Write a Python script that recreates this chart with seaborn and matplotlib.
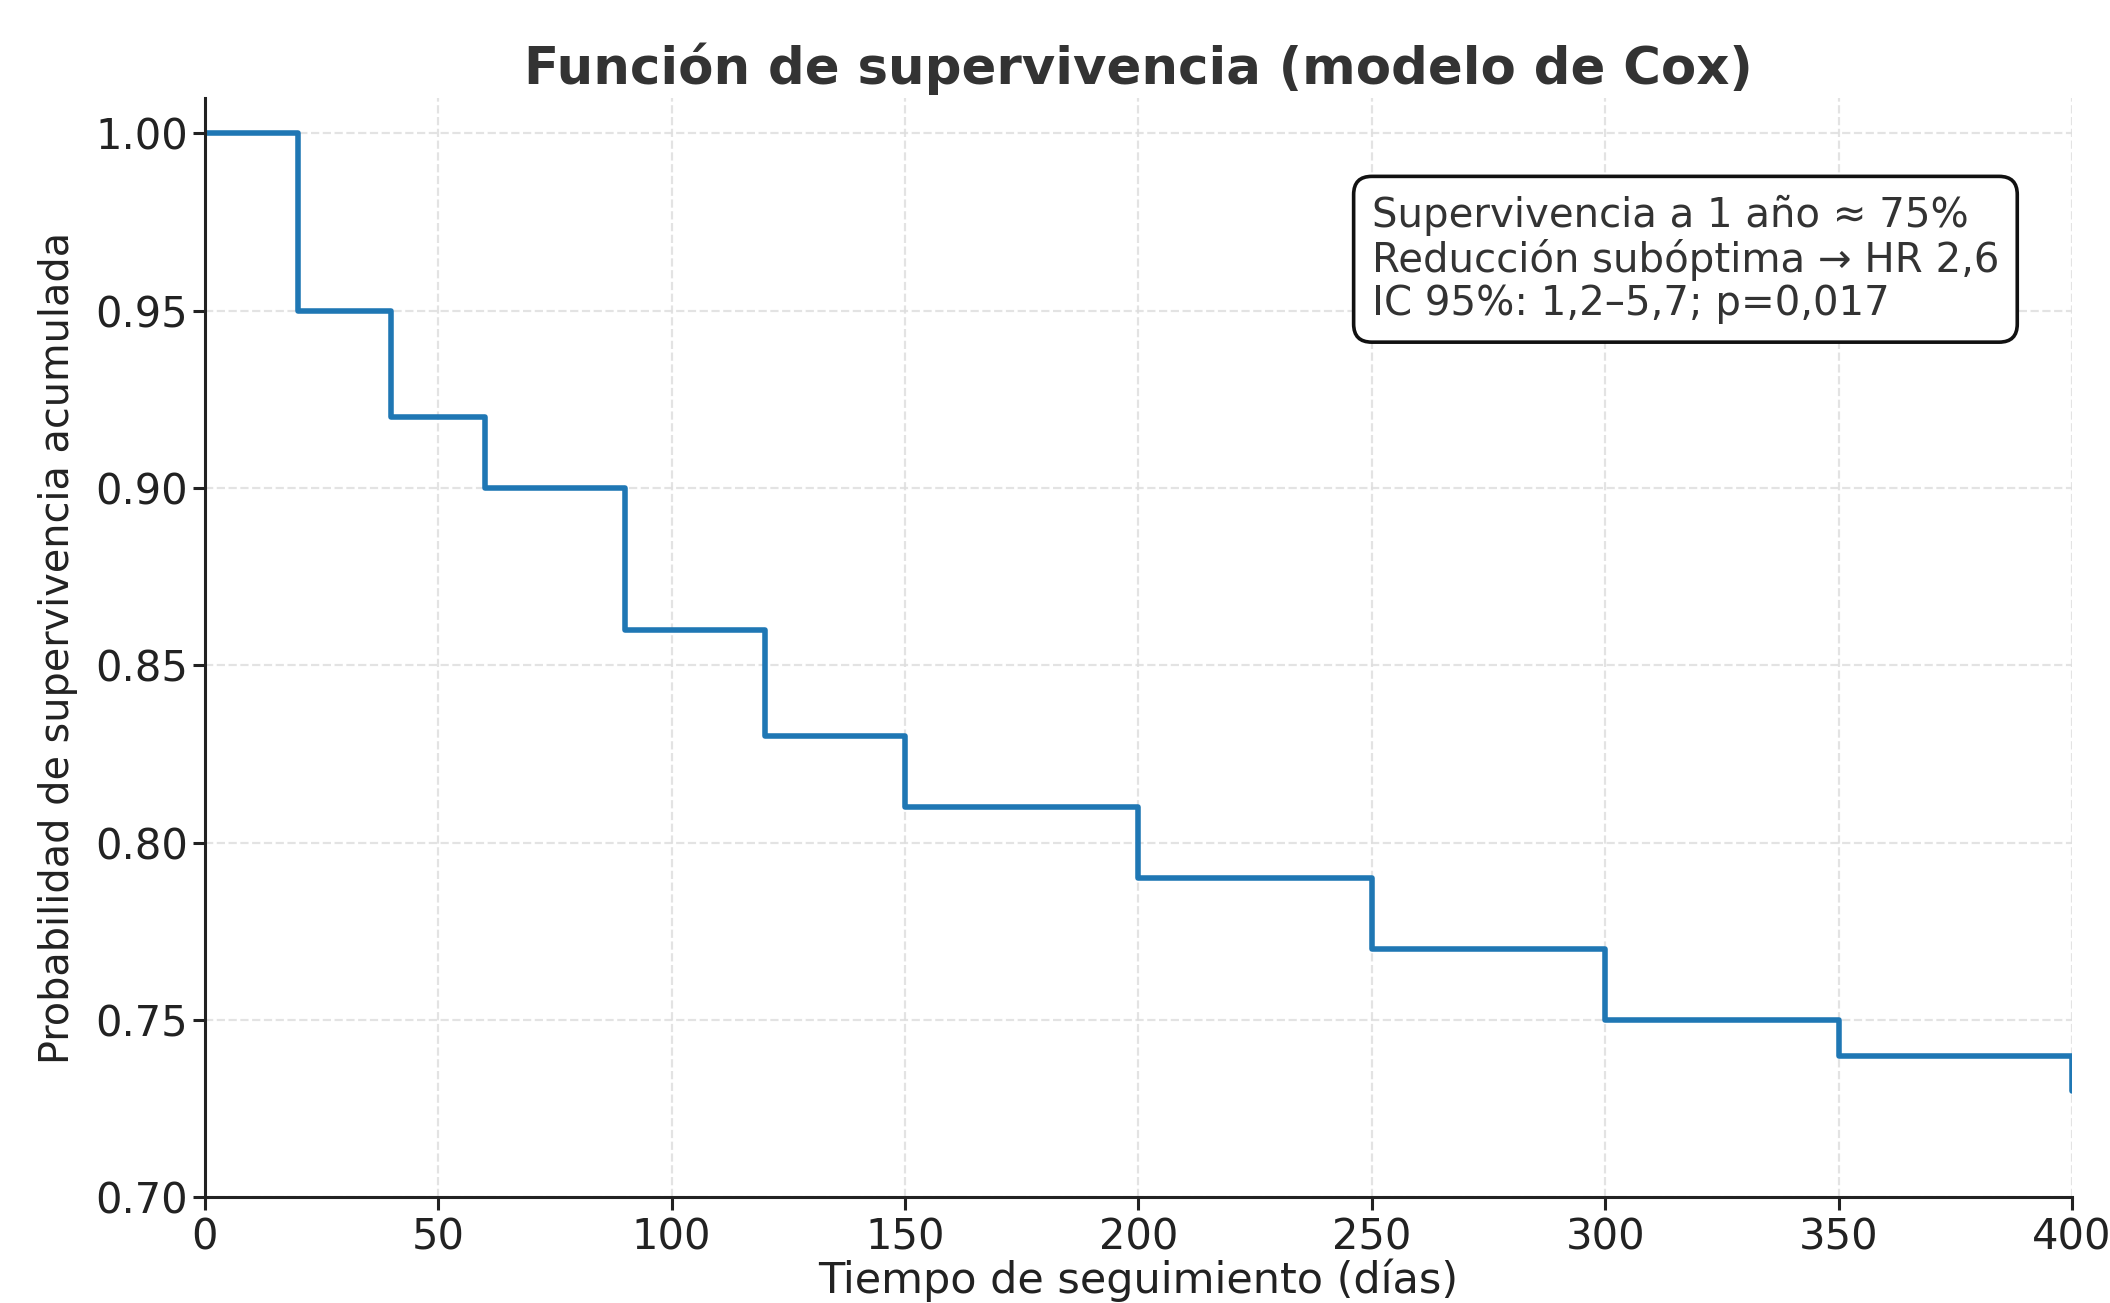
#!/usr/bin/env python3
import pandas as pd
import seaborn as sns
import matplotlib.pyplot as plt

# step points of the survival curve (post steps)
tiempo = [0, 20, 40, 60, 90, 120, 150, 200, 250, 300, 350, 400]
supervivencia = [1.00, 0.95, 0.92, 0.90, 0.86, 0.83, 0.81, 0.79, 0.77, 0.75, 0.74, 0.73]
x_ticks = [0, 50, 100, 150, 200, 250, 300, 350, 400]
y_ticks = [0.70, 0.75, 0.80, 0.85, 0.90, 0.95, 1.00]
anotacion = ['Supervivencia a 1 año ≈ 75%',
             'Reducción subóptima → HR 2,6',
             'IC 95%: 1,2–5,7; p=0,017']

df = pd.DataFrame({'t': tiempo, 's': supervivencia})

sns.set_style('ticks')
plt.rcParams['font.family'] = ['DejaVu Sans']

fig, ax = plt.subplots(figsize=(10.55, 6.515), dpi=200)
fig.subplots_adjust(left=0.097, right=0.982, top=0.925, bottom=0.081)

sns.lineplot(data=df, x='t', y='s', ax=ax, color='#1f77b4', linewidth=2,
             drawstyle='steps-post')

ax.set_xlim(0, 400)
ax.set_ylim(0.70, 1.01)
ax.set_xticks(x_ticks)
ax.set_yticks(y_ticks)
ax.set_yticklabels([f'{v:.2f}' for v in y_ticks])
ax.grid(True, linestyle='--', color='#dddddd', linewidth=0.8, alpha=0.8)
ax.tick_params(labelsize=15, length=4.5, width=1.1, colors='#222222')
ax.tick_params(axis='y', pad=1.5)
ax.tick_params(axis='x', pad=2.5)
for s in ['left', 'bottom']:
    ax.spines[s].set_linewidth(1.1)
    ax.spines[s].set_color('#222222')
sns.despine(ax=ax)

ax.set_title('Función de supervivencia (modelo de Cox)', fontsize=18.5,
             fontweight='bold', color='#333333', pad=5)
ax.set_xlabel('Tiempo de seguimiento (días)', fontsize=15.5, color='#222222', labelpad=0)
ax.set_ylabel('Probabilidad de supervivencia acumulada', fontsize=14.3, color='#222222',
              labelpad=6)

ax.text(0.625, 0.912, '\n'.join(anotacion), transform=ax.transAxes, fontsize=14.5,
        color='#333333', va='top', ha='left', linespacing=1.1,
        bbox=dict(boxstyle='round,pad=0.45', facecolor='white', edgecolor='#111111',
                  linewidth=1.3))

fig.savefig('out.png', dpi=200)
